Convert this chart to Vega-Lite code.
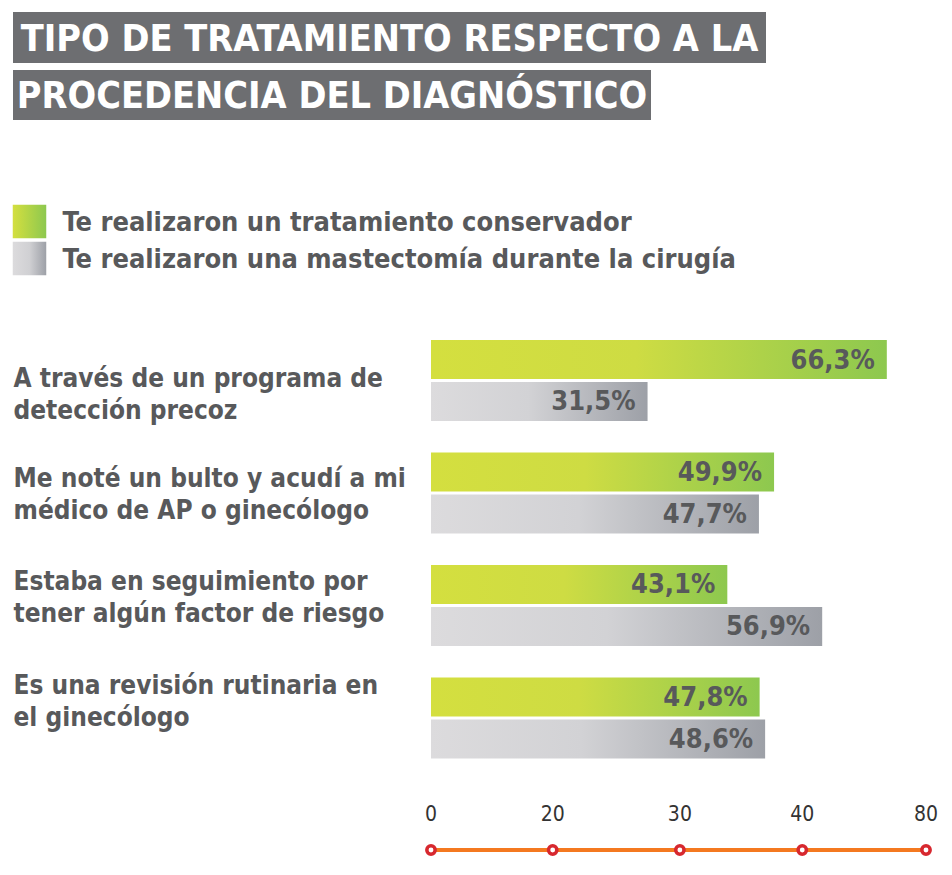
{
  "$schema": "https://vega.github.io/schema/vega-lite/v6.json",
  "padding": {"left": 12, "top": 12, "right": 5, "bottom": 5},
  "background": "white",
  "config": {"view": {"stroke": null}, "font": "Liberation Sans Narrow, DejaVu Sans Condensed, sans-serif"},
  "spacing": 83,
  "vconcat": [
    {
      "spacing": 7,
      "vconcat": [
        {
          "width": 753, "height": 51,
          "view": {"fill": "#6d6e71", "stroke": null},
          "data": {"values": [{"t": "TIPO DE TRATAMIENTO RESPECTO A LA"}]},
          "mark": {"type": "text", "color": "white", "fontSize": 37.5, "fontWeight": "bold", "align": "center", "baseline": "middle", "dy": 2},
          "encoding": {"text": {"field": "t"}}
        },
        {
          "width": 638, "height": 50,
          "view": {"fill": "#6d6e71", "stroke": null},
          "data": {"values": [{"t": "PROCEDENCIA DEL DIAGNÓSTICO"}]},
          "mark": {"type": "text", "color": "white", "fontSize": 37.5, "fontWeight": "bold", "align": "center", "baseline": "middle", "dy": 2},
          "encoding": {"text": {"field": "t"}}
        }
      ]
    },
    {
      "spacing": 63,
      "vconcat": [
        {
          "width": 33, "height": 74,
          "data": {"values": [
            {"serie": "Te realizaron un tratamiento conservador"},
            {"serie": "Te realizaron una mastectomía durante la cirugía"}
          ]},
          "encoding": {
            "y": {"field": "serie", "type": "nominal", "sort": null, "scale": {"paddingInner": 0, "paddingOuter": 0}, "axis": null}
          },
          "layer": [
            {
              "transform": [{"filter": "datum.serie === 'Te realizaron un tratamiento conservador'"}],
              "mark": {"type": "point", "shape": "square", "filled": true, "size": 1122, "opacity": 1, "strokeWidth": 0,
                "fill": {"gradient": "linear", "x1": 0, "x2": 1, "y1": 0, "y2": 0, "stops": [{"offset": 0, "color": "#d4df3f"}, {"offset": 1, "color": "#8dc84f"}]}}
            },
            {
              "transform": [{"filter": "datum.serie !== 'Te realizaron un tratamiento conservador'"}],
              "mark": {"type": "point", "shape": "square", "filled": true, "size": 1122, "opacity": 1, "strokeWidth": 0,
                "fill": {"gradient": "linear", "x1": 0, "x2": 1, "y1": 0, "y2": 0, "stops": [{"offset": 0, "color": "#dcdbdd"}, {"offset": 0.5, "color": "#d0d0d3"}, {"offset": 1, "color": "#9da0a7"}]}}
            },
            {
              "mark": {"type": "text", "align": "left", "baseline": "middle", "dx": 33, "dy": 1, "fontSize": 27, "fontWeight": "bold", "color": "#58595b"},
              "encoding": {"text": {"field": "serie"}}
            }
          ]
        },
        {
          "width": 913,
          "height": 510,
          "resolve": {"scale": {"y": "independent"}},
          "layer": [
            {
              "data": {"values": [
                {"cat": "A través de un programa de|detección precoz", "serie": "Te realizaron un tratamiento conservador", "v": 66.3},
                {"cat": "A través de un programa de|detección precoz", "serie": "Te realizaron una mastectomía durante la cirugía", "v": 31.5},
                {"cat": "Me noté un bulto y acudí a mi|médico de AP o ginecólogo", "serie": "Te realizaron un tratamiento conservador", "v": 49.9},
                {"cat": "Me noté un bulto y acudí a mi|médico de AP o ginecólogo", "serie": "Te realizaron una mastectomía durante la cirugía", "v": 47.7},
                {"cat": "Estaba en seguimiento por|tener algún factor de riesgo", "serie": "Te realizaron un tratamiento conservador", "v": 43.1},
                {"cat": "Estaba en seguimiento por|tener algún factor de riesgo", "serie": "Te realizaron una mastectomía durante la cirugía", "v": 56.9},
                {"cat": "Es una revisión rutinaria en|el ginecólogo", "serie": "Te realizaron un tratamiento conservador", "v": 47.8},
                {"cat": "Es una revisión rutinaria en|el ginecólogo", "serie": "Te realizaron una mastectomía durante la cirugía", "v": 48.6}
              ]},
              "transform": [{"calculate": "replace(format(datum.v, '.1f'), '.', ',') + '%'", "as": "lab"}],
              "encoding": {
                "y": {"field": "cat", "type": "nominal", "sort": null,
                  "scale": {"paddingInner": 0.28, "paddingOuter": 0.4067, "align": 0},
                  "axis": {"title": null, "domain": false, "ticks": false, "tickSize": 0, "labelAlign": "left", "labelPadding": 0, "labelLimit": 420,
                    "labelFontSize": 26, "labelFontWeight": "bold", "labelColor": "#58595b", "labelLineHeight": 32, "labelExpr": "split(datum.label, '|')",
                    "labelOffset": {"condition": [
                      {"test": "datum.value === 'Me noté un bulto y acudí a mi|médico de AP o ginecólogo'", "value": -14},
                      {"test": "datum.value === 'Estaba en seguimiento por|tener algún factor de riesgo'", "value": -23},
                      {"test": "datum.value === 'Es una revisión rutinaria en|el ginecólogo'", "value": -32}
                    ], "value": -1}}},
                "yOffset": {"field": "serie", "type": "nominal", "scale": {"domain": ["Te realizaron un tratamiento conservador", "Te realizaron una mastectomía durante la cirugía"], "paddingInner": 0.0714, "paddingOuter": 0}},
                "x": {"field": "v", "type": "quantitative", "scale": {"domain": [-60.8, 72], "nice": false, "zero": false}, "axis": null}
              },
              "layer": [
                {
                  "transform": [{"filter": "datum.serie === 'Te realizaron un tratamiento conservador'"}],
                  "mark": {"type": "bar", "fill": {"gradient": "linear", "x1": 0, "x2": 1, "y1": 0, "y2": 0, "stops": [{"offset": 0, "color": "#d4df3f"}, {"offset": 0.45, "color": "#cedc43"}, {"offset": 1, "color": "#8dc84f"}]}}
                },
                {
                  "transform": [{"filter": "datum.serie !== 'Te realizaron un tratamiento conservador'"}],
                  "mark": {"type": "bar", "fill": {"gradient": "linear", "x1": 0, "x2": 1, "y1": 0, "y2": 0, "stops": [{"offset": 0, "color": "#dcdbdd"}, {"offset": 0.45, "color": "#d2d2d5"}, {"offset": 1, "color": "#9da0a7"}]}}
                },
                {
                  "mark": {"type": "text", "align": "right", "baseline": "middle", "dx": -12, "dy": 1, "fontSize": 27, "fontWeight": "bold", "color": "#58595b"},
                  "encoding": {"text": {"field": "lab"}}
                }
              ]
            },
            {
              "data": {"values": [
                {"t": "0", "v": 0},
                {"t": "20", "v": 17.7},
                {"t": "30", "v": 36.2},
                {"t": "40", "v": 54},
                {"t": "80", "v": 72}
              ]},
              "encoding": {
                "x": {"field": "v", "type": "quantitative", "scale": {"domain": [-60.8, 72], "nice": false, "zero": false}, "axis": null},
                "y": {"datum": 0, "type": "quantitative", "scale": {"domain": [0, 1]}, "axis": null}
              },
              "layer": [
                {
                  "mark": {"type": "rule", "color": "#f47920", "strokeWidth": 4},
                  "encoding": {
                    "x": {"aggregate": "min", "field": "v", "type": "quantitative", "scale": {"domain": [-60.8, 72], "nice": false, "zero": false}, "axis": null},
                    "x2": {"aggregate": "max", "field": "v"}
                  }
                },
                {
                  "mark": {"type": "point", "shape": "circle", "filled": true, "fill": "white", "stroke": "#d7282f", "strokeWidth": 3.5, "size": 70, "opacity": 1}
                },
                {
                  "mark": {"type": "text", "fontSize": 21, "color": "#333333", "baseline": "middle", "align": "center", "dy": -35},
                  "encoding": {"text": {"field": "t"}}
                }
              ]
            }
          ]
        }
      ]
    }
  ]
}
